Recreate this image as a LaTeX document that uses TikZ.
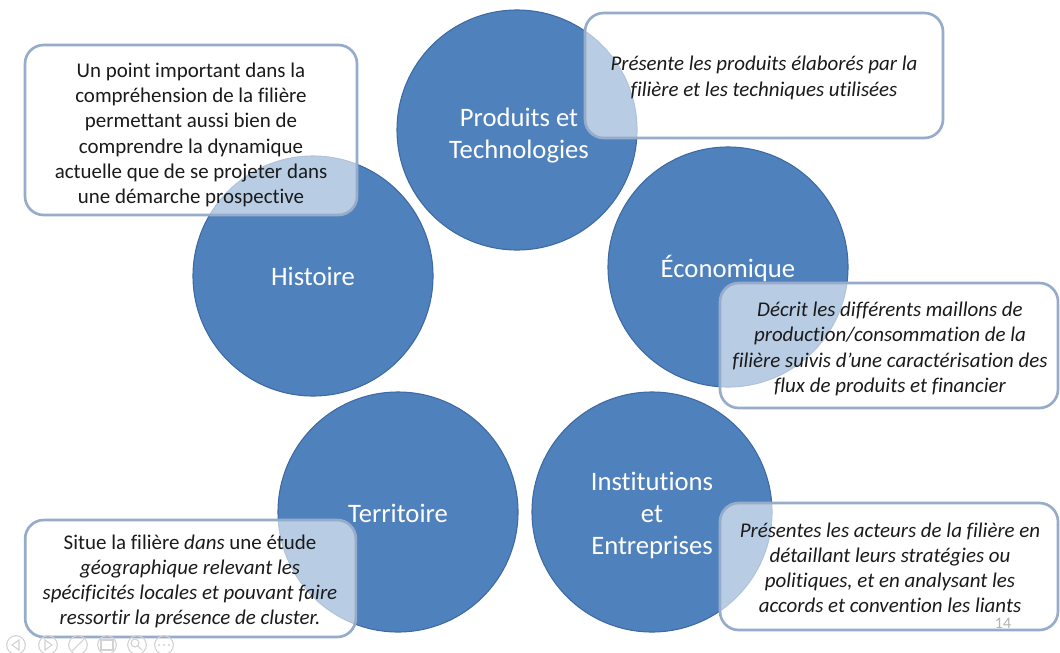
\documentclass[tikz,border=0pt]{standalone}
\usepackage{fontspec}
\setmainfont{Carlito}[Ligatures=NoCommon]
\definecolor{cfill}{HTML}{4F81BD}
\definecolor{cline}{HTML}{3D6AA3}
\definecolor{bline}{HTML}{97ACCA}
\definecolor{txt}{HTML}{1A1A1A}
\definecolor{tool}{HTML}{D2D2D2}
\begin{document}
\begin{tikzpicture}[x=0.75pt,y=-0.75pt,
  topic/.style={circle, fill=cfill, draw=cline, line width=0.8pt, minimum size=180pt, inner sep=0pt},
  topictext/.style={text=white, align=center, inner sep=0pt, font=\fontsize{20}{24}\selectfont},
  note/.style={rectangle, rounded corners=14pt, draw=bline, line width=2pt, fill=white, fill opacity=0.6,
    inner sep=0pt},
  notetext/.style={text=txt, align=center, inner sep=0pt, font=\fontsize{15.7}{18.9}\selectfont},
  tb/.style={circle, draw=tool, line width=0.8pt, minimum size=14pt, inner sep=0pt}]
\useasboundingbox (0,0) rectangle (1060,653);
\fill[white] (0,0) rectangle (1060,653);
% circles
\node[topic] (prod) at (517,130) {};
\node[topic] (eco) at (728,267) {};
\node[topic] (hist) at (313,276) {};
\node[topic] (terr) at (398,512) {};
\node[topic] (inst) at (652,512) {};
\node[topictext] (prodt) at (519,136) {Produits et\\Technologies};
\node[topictext] (ecot) at (728,269) {\'Economique};
\node[topictext] (histt) at (313,276) {Histoire};
\node[topictext] (terrt) at (398,513) {Territoire};
\node[topictext] (instt) at (652,515.5) {Institutions\\et\\Entreprises};
% notes
\node[note, minimum width=249pt, minimum height=127.5pt] (nhist) at (191,130) {};
\node[note, minimum width=268.5pt, minimum height=93.75pt] (nprod) at (764,75.5) {};
\node[note, minimum width=253.5pt, minimum height=93.75pt] (neco) at (889,345.5) {};
\node[note, minimum width=248pt, minimum height=87.75pt] (nterr) at (190.5,578.5) {};
\node[note, minimum width=253.5pt, minimum height=95.25pt] (ninst) at (889,566.5) {};
\node[notetext] (nhistt) at (191,135)
  {Un point important dans la\\compréhension de la filière\\permettant aussi bien de\\comprendre la dynamique\\actuelle que de se projeter dans\\une démarche prospective};
\node[notetext] (nprodt) at (764,78)
  {\itshape Présente les produits élaborés par la\\\itshape filière et les techniques utilisées};
\node[notetext] (necot) at (890,349)
  {\itshape Décrit les différents maillons de\\\itshape production/consommation de la\\\itshape filière suivis d’une caractérisation des\\\itshape flux de produits et financier};
\node[notetext] (nterrt) at (190,581.5)
  {Situe la filière \textit{dans} une étude\\\itshape géographique relevant les\\\itshape spécificités locales et pouvant faire\\\itshape ressortir la présence de cluster.};
\node[notetext] (ninstt) at (890,568)
  {\itshape Présentes les acteurs de la filière en\\\itshape détaillant leurs stratégies ou\\\itshape politiques, et en analysant les\\\itshape accords et convention les liants};
% page number
\node[text=tool!85!black, font=\fontsize{12}{14}\selectfont] (pg) at (1003,623) {14};
% toolbar
\node[tb] (t1) at (16,645) {};
\node[tb] (t2) at (48,645) {};
\node[tb] (t3) at (78,645) {};
\node[tb] (t4) at (107,645) {};
\node[tb] (t5) at (137,645) {};
\node[tb] (t6) at (164,645) {};
\draw[tool, line width=0.8pt] (19,640) -- (12,645) -- (19,650) -- cycle;
\draw[tool, line width=0.8pt] (45,640) -- (52,645) -- (45,650) -- cycle;
\draw[tool, line width=0.8pt] (72,651) -- (84,639);
\draw[tool, line width=0.8pt] (101,640) rectangle (113,650);
\draw[tool, line width=0.8pt] (135,643) circle (4) (138,646) -- (142,650);
\fill[tool] (159,645) circle (1.2) (164,645) circle (1.2) (169,645) circle (1.2);
\end{tikzpicture}
\end{document}
